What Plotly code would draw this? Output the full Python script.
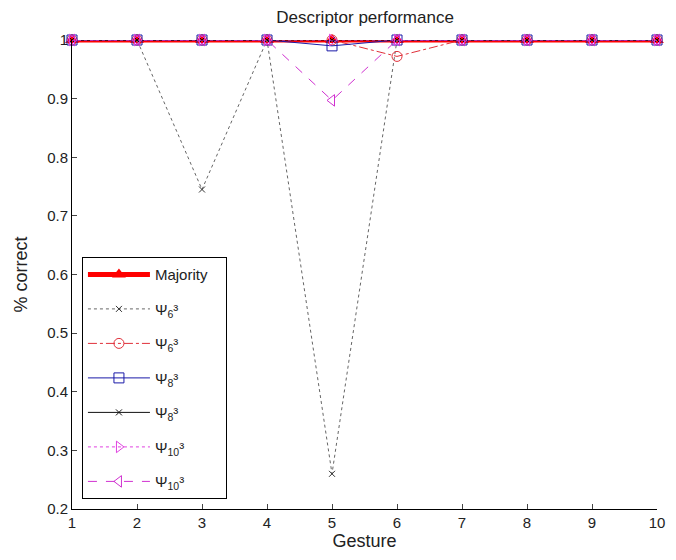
import plotly.graph_objects as go

gestures = [1, 2, 3, 4, 5, 6, 7, 8, 9, 10]
majority = [1, 1, 1, 1, 1, 1, 1, 1, 1, 1]
psi6_a = [1, 1, 0.745, 1, 0.26, 1, 1, 1, 1, 1]
psi6_b = [1, 1, 1, 1, 1, 0.972, 1, 1, 1, 1]
psi8_a = [1, 1, 1, 1, 0.99, 1, 1, 1, 1, 1]
psi8_b = [1, 1, 1, 1, 1, 1, 1, 1, 1, 1]
psi10_a = [1, 1, 1, 1, 1, 1, 1, 1, 1, 1]
psi10_b = [1, 1, 1, 1, 0.897, 1, 1, 1, 1, 1]

names = ["Majority\u00a0\u00a0\u00a0", "Ψ<sub>6</sub>³", "Ψ<sub>6</sub>³", "Ψ<sub>8</sub>³",
         "Ψ<sub>8</sub>³", "Ψ<sub>10</sub>³", "Ψ<sub>10</sub>³"]
series = [majority, psi6_a, psi6_b, psi8_a, psi8_b, psi10_a, psi10_b]
styles = [
    dict(line=dict(color="#ff0000", width=5),
         marker=dict(symbol="triangle-up", size=12, color="#ff0000")),
    dict(line=dict(color="#666666", width=1, dash="dot"),
         marker=dict(symbol="x-thin", size=6, color="#333333",
                     line=dict(color="#333333", width=1))),
    dict(line=dict(color="#e0303a", width=1, dash="dashdot"),
         marker=dict(symbol="circle-open", size=10, color="#e0303a",
                     line=dict(color="#e0303a", width=1))),
    dict(line=dict(color="#1a1aa8", width=1),
         marker=dict(symbol="square-open", size=10, color="#1a1aa8",
                     line=dict(color="#1a1aa8", width=1))),
    dict(line=dict(color="#111111", width=1),
         marker=dict(symbol="x-thin", size=6, color="#111111",
                     line=dict(color="#111111", width=1))),
    dict(line=dict(color="#e040e0", width=1, dash="dot"),
         marker=dict(symbol="triangle-right-open", size=10, color="#e040e0",
                     line=dict(color="#e040e0", width=1))),
    dict(line=dict(color="#d030d0", width=1, dash="dash"),
         marker=dict(symbol="triangle-left-open", size=10, color="#d030d0",
                     line=dict(color="#d030d0", width=1))),
]

fig = go.Figure()
for i, (nm, ys, st) in enumerate(zip(names, series, styles)):
    fig.add_trace(go.Scatter(x=gestures, y=ys, name=nm, mode="lines+markers",
                             cliponaxis=False, legendgroup=f"g{i}", **st))

font = dict(family="Liberation Sans, Arial, sans-serif", size=15, color="#222222")
fig.update_layout(
    width=676, height=560,
    margin=dict(l=72, r=11, t=40, b=51),
    paper_bgcolor="white", plot_bgcolor="white",
    font=font,
    title=dict(text="Descriptor performance", x=0.54, xanchor="center",
               y=1 - 17 / 560, yanchor="middle", font=dict(size=17, color="#222222")),
    xaxis=dict(range=[1, 10], tickvals=gestures, ticks="inside", ticklen=5,
               showline=True, linecolor="black", linewidth=1, showgrid=False,
               zeroline=False, title=dict(text="Gesture", standoff=2),
               tickfont=dict(size=15)),
    yaxis=dict(range=[0.2, 1], tickvals=[0.2, 0.3, 0.4, 0.5, 0.6, 0.7, 0.8, 0.9, 1],
               ticktext=["0.2", "0.3", "0.4", "0.5", "0.6", "0.7", "0.8", "0.9", "1"],
               ticks="inside", ticklen=5, showline=True, linecolor="black",
               linewidth=1, showgrid=False, zeroline=False,
               title=dict(text="% correct", standoff=14),
               tickfont=dict(size=15)),
    legend=dict(x=0.017, y=0.537, xanchor="left", yanchor="top",
                bordercolor="black", borderwidth=1, bgcolor="white",
                itemwidth=62, tracegroupgap=12, font=dict(size=15)),
    showlegend=True,
)

fig.write_html("out.html")
